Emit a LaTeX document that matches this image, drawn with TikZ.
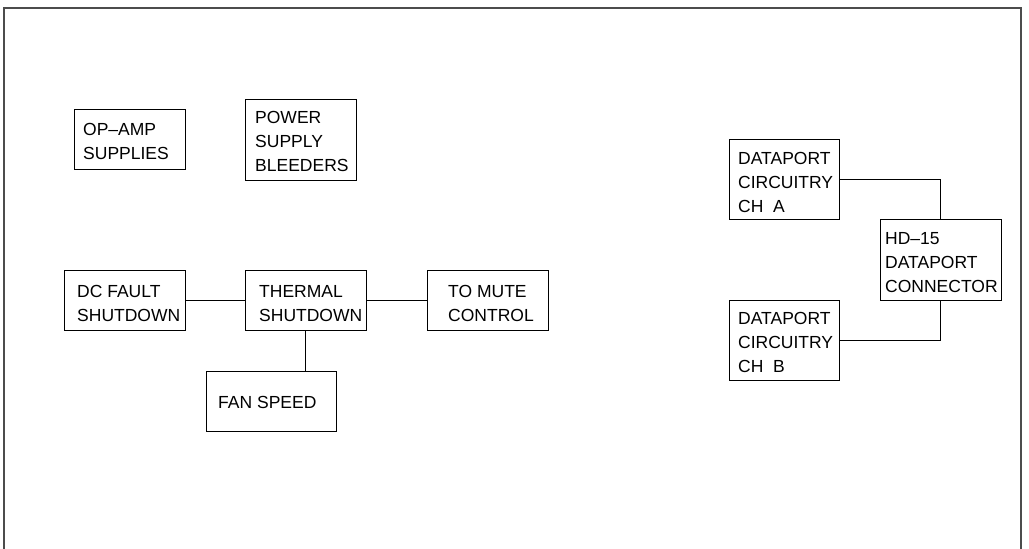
\documentclass[tikz,border=0pt]{standalone}
\usepackage{fontspec}
\setmainfont{Liberation Sans}
\begin{document}
\begin{tikzpicture}[x=1pt,y=-1pt,
  box/.style={draw=black, line width=0.9pt, inner sep=0pt, minimum height=60pt, minimum width=121pt},
  lbl/.style={inner sep=0pt, anchor=base west, align=left, font=\fontsize{17.5}{24}\selectfont},
  wire/.style={draw=black, line width=0.9pt},
  frame/.style={draw=black!70, line width=1.6pt}]
\useasboundingbox (0,0) rectangle (1029,549);
% frame
\coordinate (f1) at (4,549);
\coordinate (f2) at (4,8);
\coordinate (f3) at (1021,8);
\coordinate (f4) at (1021,549);
\draw[frame] (f1) -- (f2) -- (f3) -- (f4);
% boxes
\node[box, minimum width=111pt] (opamp) at (129.5,139) {};
\node[box, minimum width=111pt, minimum height=81pt] (psb) at (300.5,139.5) {};
\node[box] (dcf) at (124.5,300) {};
\node[box] (thermal) at (305.5,300) {};
\node[box] (mute) at (487.5,300) {};
\node[box, minimum width=130pt] (fan) at (271,401) {};
\node[box, minimum width=110pt, minimum height=80pt] (dpa) at (784,179) {};
\node[box, minimum height=81pt] (hd) at (940.5,259.5) {};
\node[box, minimum width=110pt, minimum height=80pt] (dpb) at (784,340.5) {};
% labels (anchored at the baseline of the last line)
\node[lbl] (topamp) at (83,159) {OP–AMP\\SUPPLIES};
\node[lbl] (tpsb) at (255,171) {POWER\\SUPPLY\\BLEEDERS};
\node[lbl] (tdcf) at (77,321) {DC FAULT\\SHUTDOWN};
\node[lbl] (tthermal) at (259,321) {THERMAL\\SHUTDOWN};
\node[lbl] (tmute) at (448,321) {TO MUTE\\CONTROL};
\node[lbl] (tfan) at (218,408) {FAN SPEED};
\node[lbl] (tdpa) at (738,212) {DATAPORT\\CIRCUITRY\\CH\ \ A};
\node[lbl] (thd) at (885,292) {HD–15\\DATAPORT\\CONNECTOR};
\node[lbl] (tdpb) at (738,372) {DATAPORT\\CIRCUITRY\\CH\ \ B};
% connectors
\draw[wire] (dcf.east) -- (thermal.west);
\draw[wire] (thermal.east) -- (mute.west);
\draw[wire] (thermal.south) -- (thermal.south |- fan.north);
\draw[wire] (dpa.east) -| (hd.north);
\draw[wire] (dpb.east) -| (hd.south);
\end{tikzpicture}
\end{document}
